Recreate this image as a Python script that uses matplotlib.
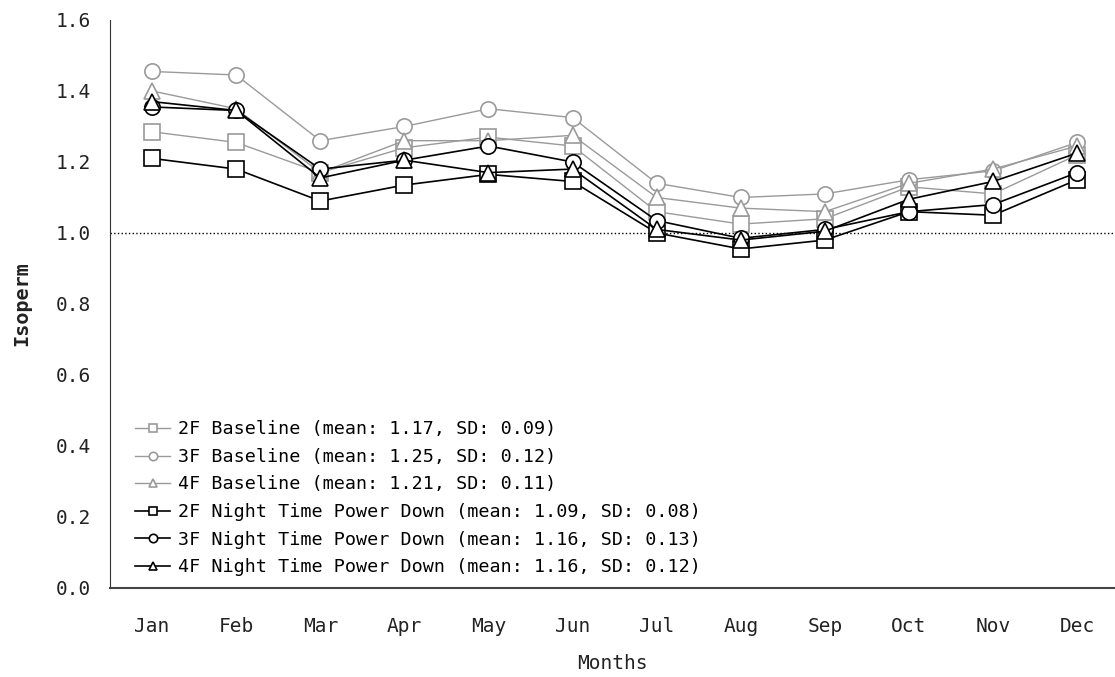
import matplotlib
matplotlib.use("Agg")
import matplotlib.pyplot as plt
import numpy as np

plt.rcParams['font.family'] = ['DejaVu Sans Mono']

months = ['Jan', 'Feb', 'Mar', 'Apr', 'May', 'Jun',
          'Jul', 'Aug', 'Sep', 'Oct', 'Nov', 'Dec']

# valores
base_2f = [1.285, 1.255, 1.17, 1.24, 1.27, 1.245, 1.06, 1.025, 1.04, 1.13, 1.11, 1.22]
base_3f = [1.455, 1.445, 1.26, 1.30, 1.35, 1.325, 1.14, 1.10, 1.11, 1.15, 1.175, 1.255]
base_4f = [1.40, 1.35, 1.17, 1.26, 1.26, 1.275, 1.10, 1.07, 1.06, 1.14, 1.18, 1.245]
night_2f = [1.21, 1.18, 1.09, 1.135, 1.165, 1.145, 1.00, 0.955, 0.98, 1.06, 1.05, 1.15]
night_3f = [1.355, 1.345, 1.18, 1.205, 1.245, 1.20, 1.035, 0.985, 1.01, 1.06, 1.08, 1.17]
night_4f = [1.37, 1.345, 1.155, 1.205, 1.17, 1.18, 1.01, 0.98, 1.005, 1.095, 1.145, 1.225]

labels = [
    '2F Baseline (mean: 1.17, SD: 0.09)',
    '3F Baseline (mean: 1.25, SD: 0.12)',
    '4F Baseline (mean: 1.21, SD: 0.11)',
    '2F Night Time Power Down (mean: 1.09, SD: 0.08)',
    '3F Night Time Power Down (mean: 1.16, SD: 0.13)',
    '4F Night Time Power Down (mean: 1.16, SD: 0.12)',
]

gray = '#9a9a9a'
x = np.arange(len(months))

fig = plt.figure(figsize=(11.15, 6.77), dpi=100)
ax = fig.add_axes([0.0987, 0.1315, 0.9013, 0.839])

series = [
    (base_2f, gray, 's', 1.0),
    (base_3f, gray, 'o', 1.0),
    (base_4f, gray, '^', 1.0),
    (night_2f, 'black', 's', 1.2),
    (night_3f, 'black', 'o', 1.2),
    (night_4f, 'black', '^', 1.2),
]
for (vals, col, mk, lw), lab in zip(series, labels):
    ax.plot(x, vals, color=col, marker=mk, markersize=11, linewidth=lw,
            markerfacecolor='white', markeredgecolor=col, markeredgewidth=1.2,
            label=lab)

ax.axhline(1.0, color='black', linestyle=':', linewidth=1, zorder=0)

ax.set_xlim(-0.5, 11.45)
ax.set_ylim(0, 1.6)
ax.set_yticks(np.arange(0, 1.61, 0.2))
ax.set_yticklabels([f'{v:.1f}' for v in np.arange(0, 1.61, 0.2)])
ax.set_xticks(x)
ax.set_xticklabels(months)
ax.tick_params(axis='x', length=0, pad=21, labelsize=14, colors='#222222')
ax.tick_params(axis='y', length=0, pad=14, labelsize=14, colors='#222222')

for s in ['top', 'right']:
    ax.spines[s].set_visible(False)
ax.spines['left'].set_color('#333333')
ax.spines['bottom'].set_color('#444444')
ax.spines['bottom'].set_linewidth(1.5)

ax.set_xlabel('Months', fontsize=14, labelpad=13, color='#222222')
ax.set_ylabel('Isoperm', fontsize=14.5, labelpad=17, color='#222222', fontweight='bold')

ax.legend(loc='lower left', bbox_to_anchor=(0.018, 0.008), frameon=False,
          fontsize=13.2, markerscale=0.55, handlelength=1.9, handletextpad=0.4,
          labelspacing=0.52, borderaxespad=0.0)

fig.savefig('out.png', dpi=100)
